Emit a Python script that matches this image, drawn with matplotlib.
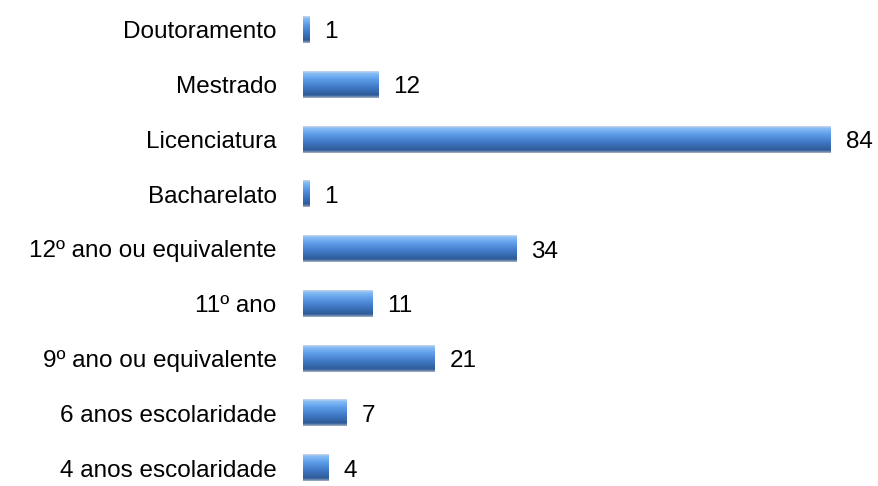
import numpy as np
import matplotlib.pyplot as plt
from matplotlib.colors import LinearSegmentedColormap

categories = ["4 anos escolaridade", "6 anos escolaridade", "9º ano ou equivalente",
              "11º ano", "12º ano ou equivalente", "Bacharelato", "Licenciatura",
              "Mestrado", "Doutoramento"]
values = [4, 7, 21, 11, 34, 1, 84, 12, 1]

plt.rcParams['font.family'] = ['Liberation Sans', 'DejaVu Sans']

fig = plt.figure(figsize=(8.79, 4.86), dpi=100)
px_per_unit = 6.28
ax = fig.add_axes([303 / 879, 0, 576 / 879, 1])

# vertical gradient for the bars (top light -> bottom dark)
cmap = LinearSegmentedColormap.from_list(
    "bar", [(0.0, "#c9d6e6"), (0.08, "#86bcf5"), (0.3, "#5e9de8"),
            (0.6, "#4079c6"), (0.9, "#2e5b98"), (1.0, "#a3afbf")])
grad = np.linspace(0, 1, 64).reshape(-1, 1)

h = 0.48
y = np.arange(len(categories))
bars = ax.barh(y, values, height=h, color="none", edgecolor="none")
for b in bars:
    x0, y0 = b.get_x(), b.get_y()
    w, hh = b.get_width(), b.get_height()
    ax.imshow(grad, cmap=cmap, aspect="auto", interpolation="bilinear",
              extent=(x0, x0 + w, y0, y0 + hh), zorder=2)
ax.set_xlim(0, 576 / px_per_unit)
ax.set_ylim(-18 / 54.75, 8 + 30 / 54.75)

for yi, v in zip(y, values):
    ax.text(v + 15 / px_per_unit, yi, str(v), va="center_baseline", ha="left",
            fontsize=17.5)

ax.set_yticks(y)
ax.set_yticklabels(categories, fontsize=17.5, va="center_baseline")
ax.tick_params(axis="y", length=0, pad=19)
ax.set_xticks([])
for s in ax.spines.values():
    s.set_visible(False)

fig.savefig("out.png", dpi=100)
